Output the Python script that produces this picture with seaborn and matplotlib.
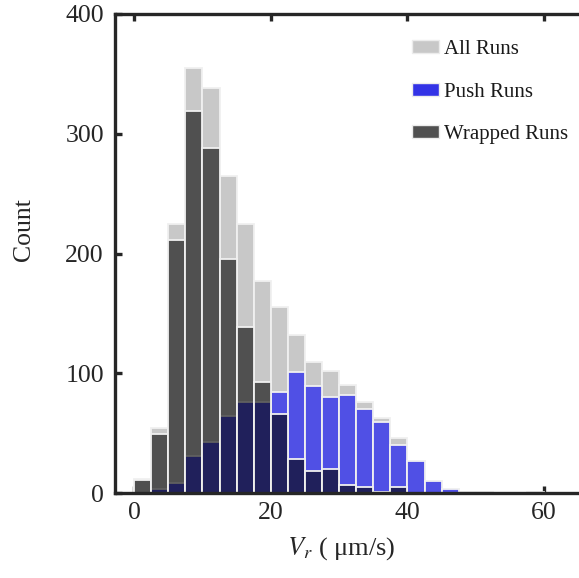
import numpy as np
import matplotlib
matplotlib.use("Agg")
import matplotlib.pyplot as plt
from matplotlib.patches import Patch
import seaborn as sns

# ---- data ----
bin_edges = [i * 2.5 for i in range(25)]      # 24 bins of width 2.5 µm/s
bin_centers = [(a + b) / 2 for a, b in zip(bin_edges[:-1], bin_edges[1:])]
all_runs = [12, 54, 225, 355, 338, 265, 225, 177, 155, 132, 109, 102,
            90, 76, 63, 46, 27, 10, 3, 1, 1, 0, 0, 1]
push_runs = [0, 3, 8, 31, 43, 64, 76, 76, 84, 101, 89, 80,
             82, 70, 59, 40, 27, 10, 3, 0, 0, 0, 0, 0]
wrapped_runs = [11, 49, 211, 319, 288, 195, 139, 93, 66, 28, 18, 20,
                7, 5, 1, 5, 0, 0, 0, 0, 0, 0, 0, 0]
x_ticks = [0, 20, 40, 60]
y_ticks = [0, 100, 200, 300, 400]
labels = ["All Runs", "Push Runs", "Wrapped Runs"]

sns.set_style("ticks")
plt.rcParams["font.family"] = ["Liberation Serif", "DejaVu Serif"]
plt.rcParams["mathtext.fontset"] = "stix"

W, H = 579, 578
fig = plt.figure(figsize=(W / 100, H / 100), dpi=100)
left_px, right_px, top_px, bot_px = 115, 612.5, 14, 493
ax = fig.add_axes([left_px / W, 1 - bot_px / H,
                   (right_px - left_px) / W, (bot_px - top_px) / H])

edge = "#f0f0f0"
lw = 1.3
df_x = np.array(bin_centers)
sns.histplot(x=df_x, weights=np.array(all_runs), bins=bin_edges, ax=ax,
             color="#c8c8c8", alpha=1.0, edgecolor=edge, linewidth=lw)
sns.histplot(x=df_x, weights=np.array(push_runs), bins=bin_edges, ax=ax,
             color="#0000fa", alpha=0.6, edgecolor=edge, linewidth=lw)
sns.histplot(x=df_x, weights=np.array(wrapped_runs), bins=bin_edges, ax=ax,
             color="#000000", alpha=0.6, edgecolor=edge, linewidth=lw)

ax.set_xlim(-2.8, 70)
ax.set_ylim(0, 400)
ax.set_xticks(x_ticks)
ax.set_yticks(y_ticks)

spine_c = "#262626"
for s in ax.spines.values():
    s.set_visible(True)
    s.set_color(spine_c)
    s.set_linewidth(2.4)
ax.tick_params(direction="in", length=5, width=2.4, color=spine_c,
               top=True, right=True, labelsize=18.5, labelcolor=spine_c)
ax.tick_params(axis="x", pad=6.5)
ax.tick_params(axis="y", pad=8)

ax.set_xlabel(r"$V_r$ ( μm/s)", fontsize=19, color=spine_c)
ax.set_ylabel("Count", fontsize=18.5, color=spine_c)
ax.xaxis.set_label_coords((341 - left_px) / (right_px - left_px),
                          -(549 - bot_px) / (bot_px - top_px))
ax.yaxis.set_label_coords(-(115 - 24) / (right_px - left_px),
                          (bot_px - 230) / (bot_px - top_px))
ax.xaxis.label.set_va("center")
ax.yaxis.label.set_va("center")

handles = [Patch(facecolor="#c8c8c8", edgecolor="#ececec"),
           Patch(facecolor="#3333e6", edgecolor="#ececec"),
           Patch(facecolor="#505050", edgecolor="#ececec")]
fig.legend(handles, labels, loc="upper left",
           bbox_to_anchor=(412 / W, 1 - 40 / H), bbox_transform=fig.transFigure,
           frameon=False, fontsize=15, borderpad=0, borderaxespad=0,
           handlelength=1.3, handleheight=0.6, handletextpad=0.25,
           labelspacing=1.13, labelcolor="#1a1a1a")

fig.savefig("out.png", dpi=100)
